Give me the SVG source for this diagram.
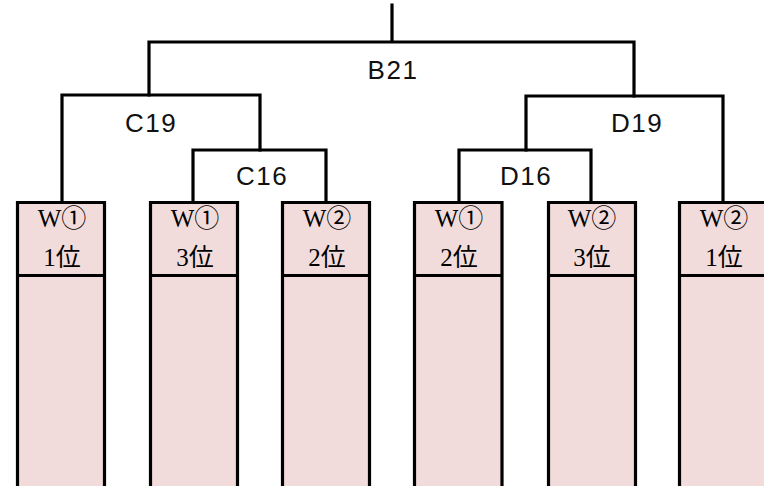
<svg xmlns="http://www.w3.org/2000/svg" width="764" height="486" viewBox="0 0 764 486">
<style>
.box{fill:#F2DCDB;stroke:none}
.edge{fill:none;stroke:#000;stroke-width:3.2;stroke-linecap:square}
.conn{fill:none;stroke:#000;stroke-width:3.2;stroke-linecap:square;stroke-linejoin:miter}
.lbl{font-family:"Liberation Sans","DejaVu Sans",sans-serif;font-size:26px;letter-spacing:1.5px;fill:#111;text-anchor:middle}
.bt{font-family:"Liberation Serif","Noto Sans CJK JP",serif;font-size:25px;fill:#000;text-anchor:middle}
</style>
<rect width="764" height="486" fill="#fff"/>
<g id="connectors">
<path class="conn" d="M392,5 V42 M149,95 V42 H634 V96"/>
<path class="conn" d="M62,202 V95 H260 V150"/>
<path class="conn" d="M193,202 V150 H326 V202"/>
<path class="conn" d="M723,202 V96 H526 V150"/>
<path class="conn" d="M459,202 V150 H591 V202"/>
</g>
<g id="labels">
<text class="lbl" x="393" y="79">B21</text>
<text class="lbl" x="151" y="132">C19</text>
<text class="lbl" x="262" y="185">C16</text>
<text class="lbl" x="526" y="185">D16</text>
<text class="lbl" x="637" y="132">D19</text>
</g>
<g id="box1">
<rect class="box" x="17.5" y="202.5" width="87" height="290"/>
<path class="edge" d="M17.5,490 V202.5 H104.5 V490 M17.5,275.5 H104.5"/>
<text class="bt" x="62" y="227">W①</text>
<text class="bt" x="62" y="266">1位</text>
</g>
<g id="box2">
<rect class="box" x="150.5" y="202.5" width="87" height="290"/>
<path class="edge" d="M150.5,490 V202.5 H237.5 V490 M150.5,275.5 H237.5"/>
<text class="bt" x="195" y="227">W①</text>
<text class="bt" x="195" y="266">3位</text>
</g>
<g id="box3">
<rect class="box" x="282.5" y="202.5" width="87" height="290"/>
<path class="edge" d="M282.5,490 V202.5 H369.5 V490 M282.5,275.5 H369.5"/>
<text class="bt" x="327" y="227">W②</text>
<text class="bt" x="327" y="266">2位</text>
</g>
<g id="box4">
<rect class="box" x="414.5" y="202.5" width="87.5" height="290"/>
<path class="edge" d="M414.5,490 V202.5 H502 V490 M414.5,275.5 H502"/>
<text class="bt" x="459" y="227">W①</text>
<text class="bt" x="459" y="266">2位</text>
</g>
<g id="box5">
<rect class="box" x="548.5" y="202.5" width="87" height="290"/>
<path class="edge" d="M548.5,490 V202.5 H635.5 V490 M548.5,275.5 H635.5"/>
<text class="bt" x="592" y="227">W②</text>
<text class="bt" x="592" y="266">3位</text>
</g>
<g id="box6">
<rect class="box" x="679.5" y="202.5" width="90" height="290"/>
<path class="edge" d="M679.5,490 V202.5 H770 M679.5,275.5 H770"/>
<text class="bt" x="724" y="227">W②</text>
<text class="bt" x="724" y="266">1位</text>
</g>
</svg>
